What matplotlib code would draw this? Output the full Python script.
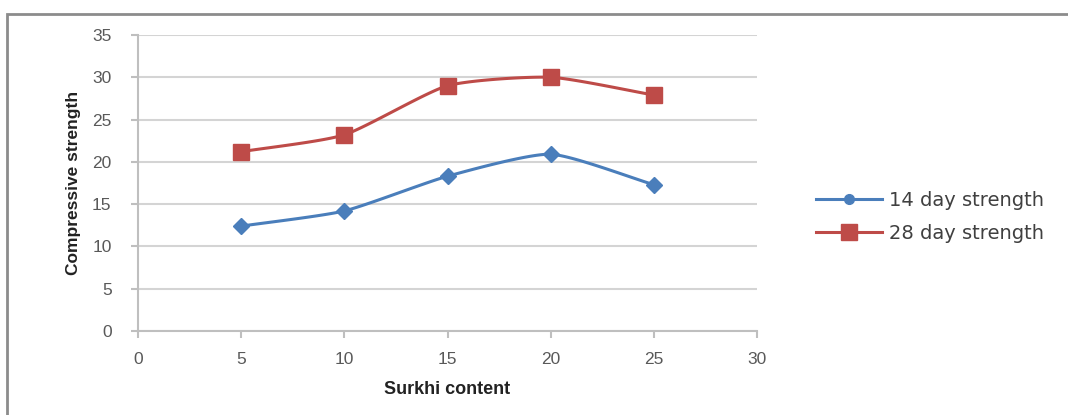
import numpy as np
import matplotlib
matplotlib.use("Agg")
import matplotlib.pyplot as plt
from matplotlib.patches import Rectangle

surkhi = [5, 10, 15, 20, 25]
strength_14 = [12.4, 14.2, 18.3, 20.9, 17.3]
strength_28 = [21.2, 23.2, 29.0, 30.0, 27.9]
series_names = ["14 day strength", "28 day strength"]
xticks = [0, 5, 10, 15, 20, 25, 30]
yticks = [0, 5, 10, 15, 20, 25, 30, 35]

plt.rcParams['font.family'] = ['Liberation Sans', 'DejaVu Sans']


def smooth(x, y, n=30):
    # Catmull-Rom style smoothing (as Excel "smoothed line") for drawing only
    x = np.asarray(x, float); y = np.asarray(y, float)
    px = np.concatenate([[2 * x[0] - x[1]], x, [2 * x[-1] - x[-2]]])
    py = np.concatenate([[2 * y[0] - y[1]], y, [2 * y[-1] - y[-2]]])
    xs, ys = [], []
    t = np.linspace(0, 1, n)
    for i in range(1, len(px) - 2):
        p0, p1, p2, p3 = [np.array([px[j], py[j]]) for j in range(i - 1, i + 3)]
        m1 = (p2 - p0) / 2 * 0.6
        m2 = (p3 - p1) / 2 * 0.6
        h00 = 2 * t**3 - 3 * t**2 + 1
        h10 = t**3 - 2 * t**2 + t
        h01 = -2 * t**3 + 3 * t**2
        h11 = t**3 - t**2
        pts = np.outer(h00, p1) + np.outer(h10, m1) + np.outer(h01, p2) + np.outer(h11, m2)
        xs.extend(pts[:, 0]); ys.extend(pts[:, 1])
    return xs, ys


fig = plt.figure(figsize=(10.68, 4.15), dpi=100)
fig.patches.append(Rectangle((7 / 1068, -0.05), 1.2, 1 - 14 / 415 + 0.05,
                             transform=fig.transFigure, fill=False,
                             edgecolor='#8c8c8c', linewidth=2))
ax = fig.add_axes([138 / 1068, 1 - 331 / 415, (757 - 138) / 1068, (331 - 35) / 415])

blue = '#4a7ebb'
red = '#be4b48'

sx, sy = smooth(surkhi, strength_14)
ax.plot(sx, sy, color=blue, lw=2.2, zorder=3)
ax.plot(surkhi, strength_14, linestyle='none', marker='D', ms=8, color=blue, zorder=4)
sx, sy = smooth(surkhi, strength_28)
ax.plot(sx, sy, color=red, lw=2.2, zorder=3)
ax.plot(surkhi, strength_28, linestyle='none', marker='s', ms=12, color=red, zorder=4)

# legend handles
h1, = ax.plot([], [], color=blue, lw=2.2, marker='o', ms=7, label=series_names[0])
h2, = ax.plot([], [], color=red, lw=2.2, marker='s', ms=12, label=series_names[1])
leg = fig.legend(handles=[h1, h2], loc='center left', bbox_to_anchor=(798 / 1068, 1 - 217 / 415),
                 frameon=False, handlelength=3.4, labelcolor='#404040',
                 labelspacing=0.75, handletextpad=0.4,
                 prop={'family': 'DejaVu Sans', 'size': 14})

ax.set_xlim(0, 30)
ax.set_ylim(0, 35)
ax.set_xticks(xticks)
ax.set_yticks(yticks)
ax.grid(axis='y', color='#d4d4d4', lw=1.5)
ax.set_axisbelow(True)
for s in ['top', 'right']:
    ax.spines[s].set_visible(False)
for s in ['left', 'bottom']:
    ax.spines[s].set_color('#bfbfbf')
    ax.spines[s].set_linewidth(1.5)
ax.tick_params(axis='x', colors='#bfbfbf', length=5, width=1.5, labelcolor='#595959',
               labelsize=12.5, pad=10)
ax.tick_params(axis='y', colors='#bfbfbf', length=5, width=1.5, labelcolor='#595959',
               labelsize=12.5, pad=14)
ax.set_xlabel('Surkhi content', fontsize=13, fontweight='bold', color='#222222', labelpad=10)
ax.set_ylabel('Compressive strength', fontsize=12.5, fontweight='bold', color='#222222', labelpad=8)

fig.savefig('out.png', dpi=100)
